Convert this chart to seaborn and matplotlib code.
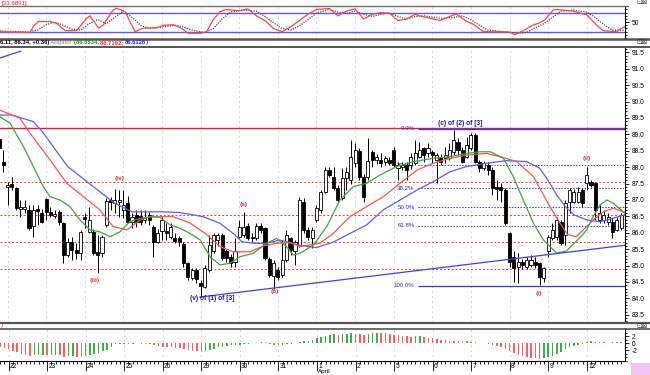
import matplotlib
matplotlib.use("Agg")
import matplotlib.pyplot as plt
import matplotlib.transforms as mtransforms
from matplotlib.lines import Line2D
from matplotlib.patches import Rectangle
from matplotlib.text import Annotation
from matplotlib.ticker import MultipleLocator, FixedLocator, FormatStrFormatter
import numpy as np
import pandas as pd
import seaborn as sns

# --- price bars (index 0 = first bar at the left edge) ---
opens = [88.85, 88.17, 87.40, 87.49, 87.36, 86.72, 86.73, 86.69, 86.20, 86.74,
         86.59, 87.02, 86.64, 86.50, 86.64, 86.29, 85.32, 85.73, 85.47, 85.37,
         86.47, 86.03, 86.03, 85.42, 85.37, 86.24, 87.00, 86.92, 86.95, 86.70,
         86.90, 86.34, 86.54, 86.51, 86.38, 86.54, 86.19, 85.73, 86.04, 86.05,
         85.88, 85.83, 85.83, 85.66, 85.07, 84.61, 84.87, 84.48, 84.36, 84.87,
         85.43, 85.78, 85.93, 85.43, 85.27, 85.12, 85.88, 85.93, 86.20, 85.88,
         85.83, 86.20, 86.14, 85.19, 84.68, 84.87, 84.71, 85.17, 85.83, 85.43,
         85.63, 86.95, 86.09, 85.83, 86.39, 86.70, 87.25, 87.90, 87.71, 87.36,
         87.05, 87.66, 87.60, 88.12, 88.50, 87.70, 87.70, 88.47, 88.22, 88.22,
         88.17, 88.22, 88.52, 87.97, 88.00, 88.07, 88.07, 88.12, 88.32, 88.57,
         88.42, 88.47, 88.22, 88.32, 88.27, 88.27, 88.47, 88.78, 88.52, 88.32,
         88.57, 88.98, 88.17, 87.97, 88.07, 87.92, 87.39, 87.39, 87.31, 85.98,
         85.27, 84.97, 85.12, 84.97, 85.02, 85.12, 85.07, 84.61, 85.43, 85.83,
         85.88, 86.34, 85.93, 86.95, 86.95, 86.95, 87.30, 87.51, 87.56, 87.51,
         86.39, 86.39, 86.34, 86.34, 86.09, 86.14]
highs = [88.88, 88.52, 87.55, 87.71, 87.41, 87.00, 87.00, 86.85, 86.85, 86.85,
         86.74, 87.05, 86.80, 86.70, 86.69, 86.34, 85.83, 85.88, 85.70, 86.08,
         86.59, 86.80, 86.13, 85.93, 85.93, 87.05, 87.10, 87.35, 87.30, 87.30,
         87.12, 86.59, 86.69, 86.69, 86.69, 86.64, 86.24, 86.13, 86.49, 86.29,
         86.30, 85.98, 85.90, 85.73, 85.12, 84.92, 84.92, 84.56, 85.02, 85.93,
         85.98, 86.00, 85.98, 85.50, 85.35, 85.83, 86.39, 86.64, 86.29, 86.00,
         86.29, 86.30, 86.19, 85.27, 85.17, 84.97, 85.78, 86.08, 85.88, 85.78,
         87.10, 87.05, 86.19, 86.19, 86.85, 87.30, 88.02, 88.00, 88.02, 87.46,
         87.97, 88.02, 88.83, 88.73, 88.60, 87.80, 88.88, 88.52, 88.40, 88.42,
         88.35, 88.32, 88.63, 88.17, 88.15, 88.17, 88.42, 88.83, 88.78, 88.63,
         88.73, 88.52, 88.42, 88.40, 88.63, 88.73, 89.13, 88.88, 88.63, 88.93,
         89.03, 89.03, 88.22, 88.20, 88.17, 88.02, 87.61, 87.51, 87.36, 86.03,
         85.43, 85.37, 85.20, 85.25, 85.32, 85.27, 85.12, 84.97, 85.93, 86.29,
         86.49, 86.39, 87.00, 87.36, 87.35, 87.40, 87.36, 88.02, 87.61, 87.56,
         86.85, 86.70, 86.60, 86.44, 86.49, 86.59]
lows = [88.52, 87.86, 86.85, 87.30, 86.70, 86.49, 86.59, 86.09, 85.88, 86.24,
        86.29, 86.39, 86.49, 86.45, 86.24, 85.07, 85.27, 85.17, 85.20, 85.17,
        86.14, 85.98, 85.32, 84.76, 85.27, 86.19, 86.70, 86.59, 86.49, 86.44,
        86.29, 86.14, 86.19, 86.24, 86.30, 86.24, 85.27, 85.68, 85.78, 85.78,
        85.80, 85.68, 85.60, 84.97, 84.56, 84.56, 84.46, 84.05, 84.31, 84.80,
        85.38, 85.60, 85.17, 85.10, 84.97, 84.97, 85.83, 85.88, 85.78, 85.73,
        85.78, 86.00, 85.17, 84.66, 84.30, 84.56, 84.66, 85.12, 85.32, 85.02,
        85.58, 85.98, 85.78, 85.53, 86.34, 86.60, 87.20, 87.70, 87.31, 86.90,
        87.00, 87.30, 87.50, 88.02, 87.60, 86.95, 87.60, 88.02, 88.10, 88.02,
        88.07, 88.07, 88.02, 87.61, 87.90, 87.61, 87.95, 88.07, 88.27, 88.17,
        88.32, 88.12, 87.51, 88.07, 88.12, 88.22, 88.37, 88.37, 88.12, 88.27,
        88.52, 88.12, 87.86, 87.90, 87.76, 87.15, 87.00, 86.95, 86.24, 84.97,
        84.51, 84.46, 84.90, 84.90, 84.97, 84.92, 84.41, 84.51, 85.27, 85.78,
        85.78, 85.63, 85.63, 86.59, 86.90, 86.90, 86.80, 87.30, 87.41, 86.39,
        86.29, 86.30, 86.25, 85.83, 86.04, 86.09]
closes = [88.60, 88.07, 87.45, 87.39, 86.75, 86.79, 86.80, 86.14, 86.69, 86.65,
          86.34, 86.64, 86.54, 86.56, 86.34, 85.32, 85.73, 85.47, 85.39, 86.03,
          86.43, 86.39, 85.37, 85.32, 85.88, 86.98, 86.94, 87.00, 87.00, 86.85,
          86.34, 86.49, 86.34, 86.34, 86.46, 86.39, 85.73, 85.98, 86.39, 85.98,
          86.19, 85.76, 85.73, 85.09, 84.66, 84.87, 84.58, 84.38, 84.92, 85.63,
          85.93, 85.93, 85.22, 85.22, 85.07, 85.43, 86.17, 86.19, 85.83, 85.83,
          86.20, 86.08, 85.22, 84.71, 85.07, 84.66, 85.17, 85.93, 85.48, 85.73,
          87.00, 86.09, 85.88, 86.08, 86.75, 87.25, 87.92, 87.76, 87.36, 87.00,
          87.66, 87.86, 88.30, 88.52, 87.70, 87.10, 88.20, 88.22, 88.32, 88.12,
          88.27, 88.12, 88.07, 88.07, 88.07, 87.92, 88.32, 88.42, 88.52, 88.37,
          88.57, 88.37, 88.37, 88.17, 88.37, 88.52, 88.83, 88.52, 88.17, 88.68,
          88.98, 88.17, 87.97, 88.12, 87.92, 87.36, 87.33, 87.31, 86.29, 85.12,
          84.92, 85.12, 85.02, 85.17, 85.17, 85.02, 84.66, 84.92, 85.88, 86.08,
          86.39, 85.68, 86.90, 87.30, 87.25, 87.25, 86.90, 87.76, 87.46, 86.70,
          86.59, 86.54, 86.49, 86.03, 86.39, 86.54]

day_labels = ["22", "23", "24", "25", "26", "29", "30", "31",
              "1", "2", "5", "6", "7", "8", "9", "12"]

# --- Alligator lines (bar index, price) ---
jaw_x = [0.2, 3, 8, 10, 16, 20, 24, 27, 31, 37.5, 42, 47.6, 51.5, 54.6, 56.6,
         59.3, 62.4, 65.5, 70, 74, 78, 81.8, 85.7, 89.6, 93.5, 97.4, 101.2,
         105.1, 109, 113.7, 118.3, 123, 126, 128, 130, 132, 134, 137, 140, 142,
         145.9]
jaw_y = [89.59, 89.59, 89.39, 89.1, 88.02, 87.61, 87.2, 86.9, 86.64, 86.64,
         86.62, 86.49, 86.29, 85.98, 85.73, 85.68, 85.68, 85.78, 85.62, 85.55,
         85.72, 85.98, 86.24, 86.7, 87.0, 87.3, 87.56, 87.86, 88.02, 88.12,
         88.2, 88.17, 87.97, 87.6, 87.15, 86.8, 86.55, 86.39, 86.34, 86.4,
         86.55]
teeth_x = [0.2, 4.9, 7.2, 11.9, 15.8, 19.7, 23.5, 26.6, 29.8, 32.9, 35.2, 40.6,
           44.5, 48.4, 51.5, 54.6, 58.5, 61.6, 64.7, 67.8, 70.2, 74.8, 77.9,
           81.8, 85.7, 89.6, 93.5, 97.4, 101.2, 105.1, 109, 113.7, 116.8, 120.7,
           124.6, 128.4, 130.8, 132.5, 134.5, 136.2, 138.5, 140.9, 143.2, 145.9]
teeth_y = [89.74, 89.49, 89.04, 88.22, 87.51, 87.1, 86.7, 86.19, 86.09, 86.39,
           86.49, 86.49, 86.3, 85.95, 85.58, 85.42, 85.42, 85.6, 85.68, 85.7,
           85.58, 85.68, 85.98, 86.49, 86.8, 87.1, 87.51, 87.91, 88.12, 88.27,
           88.37, 88.42, 88.32, 88.17, 87.71, 86.8, 86.29, 85.95, 85.88, 86.09,
           86.39, 86.64, 86.75, 86.62]
lips_x = [0.2, 2.6, 3.7, 5.7, 8, 10.3, 11.9, 14.2, 16.5, 18.9, 21.2, 23.5, 25.9,
          28.2, 30.5, 32.9, 35.2, 37.5, 39.9, 42.2, 44.5, 46.9, 49.2, 51.5,
          53.8, 56.2, 59.3, 62.4, 64.7, 67, 68.6, 70.2, 73.3, 76.4, 79.5, 82.6,
          85.7, 88.8, 92.7, 96.6, 101.2, 105.1, 109, 112.1, 114.5, 117.6, 119.9,
          122.2, 124.6, 126.9, 130, 132.3, 135.4, 137, 138.5, 140.1, 141.7,
          143.2, 145.9]
lips_y = [89.54, 89.34, 89.08, 88.63, 88.02, 87.41, 87.1, 87.0, 86.8, 86.39,
          86.09, 86.03, 85.88, 86.03, 86.34, 86.44, 86.49, 86.47, 86.24, 86.14,
          85.98, 85.78, 85.27, 85.02, 85.07, 85.27, 85.38, 85.68, 85.83, 85.58,
          85.32, 85.38, 85.63, 86.19, 87.0, 87.41, 87.51, 87.76, 88.02, 88.17,
          88.27, 88.32, 88.42, 88.47, 88.47, 88.27, 87.71, 87.0, 86.29, 85.78,
          85.38, 85.45, 85.85, 86.09, 86.49, 86.85, 87.0, 86.9, 86.6]

# --- stochastic (top pane) ---
stoch_k_x = [0.2, 2, 5, 7.2, 8, 9.2, 11.9, 13.4, 15.4, 18.1, 20.4, 21.2, 23.2,
             24.3, 26.6, 27.4, 29.4, 31.7, 33.6, 36.7, 38.3, 40.6, 42.5, 44.1,
             46.9, 48.4, 49.9, 51.5, 53, 56, 58, 60, 62, 64, 66, 68, 70, 72, 74,
             77, 79, 81, 83, 85, 87, 89, 91, 93, 95, 97, 98, 102.8, 105.9, 106.6,
             109, 110.5, 112.9, 119.1, 120.2, 122.2, 124.5, 125.7, 127.2, 129.2,
             130, 133.8, 137, 139.3, 140.8, 143.9, 145.9]
stoch_k_y = [20, 19, 18, 17, 36, 52, 52, 46.5, 23, 23, 62, 70, 31, 41, 88.5, 94,
             83, 20, 31, 32, 40, 42, 31, 15, 15, 20, 57, 83, 90, 86, 92, 70, 55,
             30, 20, 35, 55, 75, 90, 93, 70, 85, 92, 60, 75, 80, 78, 55, 60, 75,
             70, 55, 73, 76, 52, 44, 20, 19, 10, 23, 41, 46, 57, 88.5, 90, 85, 73,
             41, 23, 20, 36]
stoch_d_x = [0.2, 7, 9, 11, 13, 15, 17, 19, 21, 23, 25, 27, 29, 31, 33, 35, 38,
             41, 43, 45, 48, 50, 52, 54, 57, 60, 62, 64, 66, 68, 70, 72, 74, 77,
             79, 81, 83, 85, 87, 89, 91, 93, 95, 97, 99, 103, 106, 108, 110, 112,
             114, 118, 121, 123, 125, 127, 129, 131, 134, 137, 139, 141, 143,
             145.9]
stoch_d_y = [22, 19, 25, 42, 50, 40, 28, 25, 45, 58, 45, 65, 85, 65, 40, 30, 35,
             40, 35, 25, 17, 30, 60, 82, 88, 85, 68, 48, 30, 25, 38, 58, 78, 90,
             82, 78, 85, 75, 68, 75, 79, 68, 60, 68, 70, 62, 65, 70, 58, 40, 25,
             19, 15, 18, 32, 45, 65, 85, 88, 82, 65, 42, 25, 24]

# --- oscillator histogram (bottom pane), one value per bar ---
osc = [-1.0, -1.3, -1.8, -2.3, -2.7, -3.1, -3.4, -3.6, -3.5, -3.4,
       -3.3, -3.5, -3.4, -3.3, -3.5, -3.9, -3.8, -3.7, -3.9, -4.0,
       -3.8, -3.5, -3.2, -2.8, -2.4, -1.9, -1.2, -0.4, -0.2, -0.25,
       -0.3, -0.2, -0.1, -0.15, -0.2, -0.3, -0.5, -0.8, -1.0, -1.1,
       -1.2, -1.3, -1.5, -1.7, -2.0, -2.2, -2.3, -2.4, -2.2, -1.9,
       -1.6, -1.2, -1.0, -0.8, -0.7, -0.6, -0.5, -0.3, -0.2, -0.1,
       0.1, 0.3, 0.2, -0.4, -0.6, -0.7, -0.6, -0.4, -0.2, 0.1,
       0.3, 0.5, 0.7, 1.0, 1.3, 1.6, 1.9, 2.2, 2.5, 2.4,
       2.5, 2.6, 2.8, 2.7, 2.5, 2.4, 2.6, 2.8, 3.0, 2.9,
       2.8, 2.6, 2.4, 2.3, 2.1, 1.9, 1.8, 1.9, 2.0, 1.8,
       1.5, 1.3, 1.1, 0.9, 0.8, 0.7, 0.6, 0.5, 0.4, 0.5,
       0.4, 0.2, 0.1, -0.1, -0.3, -0.5, -0.8, -1.2, -1.6, -2.2,
       -2.8, -3.3, -3.8, -4.1, -4.3, -4.4, -4.5, -4.3, -4.0, -3.6,
       -3.0, -2.5, -1.8, -1.2, -0.8, -0.5, -0.2, 0.2, 0.5, 0.4,
       0.3, 0.2, 0.1, 0.2, 0.3, 0.3]

# --- annotation levels ---
fib_high, fib_low = 89.19, 84.38
fib_pcts = [0.0, 23.6, 38.2, 50.0, 61.8, 100.0]
red_levels = [87.56, 86.53, 85.72, 84.90]
trend_start = (46.8, 84.04)
trend_end = (145.92, 85.62)
wave_labels = [("(iv)", 28.2, 87.66), ("(iii)", 22.4, 84.56), ("(a)", 57.0, 86.87),
               ("(b)", 64.3, 84.20), ("(ii)", 137.0, 88.27), ("(i)", 125.9, 84.16)]
blue_labels = [("(c) of (2) of [3]", 107.4, 89.34), ("(v) of (1) of [3]", 49.7, 84.0)]
header_parts = [("6.11, 86.34, +0.36)", "black", "bold"),
                (" Alligator ", "#8a8a8a", "normal"),
                ("(86.6534, ", "#1e9a1e", "bold"),
                ("86.7192, ", "#ff2020", "bold"),
                ("86.6128", "#2020ff", "bold"),
                (")", "black", "normal")]

sns.set_theme(style="white")
plt.rcParams["font.family"] = ["Liberation Sans", "DejaVu Sans"]
plt.rcParams["axes.unicode_minus"] = False

W, H = 650, 375
fig = plt.figure(figsize=(W / 100, H / 100), dpi=100)
fig.patch.set_facecolor("white")


def box(x0, y0, x1, y1):
    return [x0 / W, 1 - y1 / H, (x1 - x0) / W, (y1 - y0) / H]


ax_st = fig.add_axes(box(0, 6, 625, 38))
ax = fig.add_axes(box(0, 47.5, 625, 322))
ax_os = fig.add_axes(box(0, 328, 625, 361))

XLIM = (0.23, 145.92)
day_pos = [2 + 9 * k for k in range(len(day_labels))]

for a in (ax_st, ax, ax_os):
    a.set_facecolor("white")
    a.set_xlim(*XLIM)
    for s in ("top", "left", "bottom"):
        a.spines[s].set_visible(False)
    a.spines["right"].set_color("black")
    a.spines["right"].set_linewidth(0.8)
    a.yaxis.tick_right()
    a.tick_params(axis="y", which="both", left=False, right=True, labelleft=False,
                  labelright=True, direction="out", colors="black", labelsize=4.8,
                  width=0.6, pad=2)
    a.tick_params(axis="y", which="major", length=3)
    a.tick_params(axis="y", which="minor", length=1.5)
    a.tick_params(axis="x", which="both", bottom=False, labelbottom=False)
    for p in day_pos:
        a.axvline(p, color="#8c8c8c", lw=0.6, ls=(0, (1, 5)), zorder=0)

# ---------- stochastic pane ----------
ax_st.set_ylim(0, 101)
ax_st.axhline(80, color="#5a5aff", lw=1.0, zorder=1)
ax_st.axhline(20, color="#5a5aff", lw=1.0, zorder=1)
sns.lineplot(x=stoch_d_x, y=stoch_d_y, ax=ax_st, color="#4a4a4a", lw=0.9,
             linestyle=(0, (1, 1)), estimator=None, sort=False, zorder=2)
sns.lineplot(x=stoch_k_x, y=stoch_k_y, ax=ax_st, color="#ff4444", lw=0.9,
             estimator=None, sort=False, zorder=3)
ax_st.yaxis.set_major_locator(FixedLocator([50]))
ax_st.yaxis.set_minor_locator(MultipleLocator(10))
ax_st.set_xlabel("")
ax_st.set_ylabel("")

# ---------- price pane ----------
ax.set_ylim(83.28, 91.649)
ax.yaxis.set_major_locator(MultipleLocator(0.5))
ax.yaxis.set_minor_locator(MultipleLocator(0.1))
ax.yaxis.set_major_formatter(FormatStrFormatter("%.1f"))

for lv in red_levels:
    ax.axhline(lv, color="#ff3030", lw=0.7, ls=(0, (2, 2)), zorder=1)
ax.axhline(89.2, color="#e0202a", lw=1.0, zorder=1)

fib_x0 = 97.7
for pct in fib_pcts:
    lv = fib_high - pct / 100 * (fib_high - fib_low)
    if pct in (0.0, 100.0):
        ax.hlines(lv - (0.03 if pct == 0.0 else 0), fib_x0, XLIM[1], color="#3535f0",
                  lw=0.9, zorder=1)
    else:
        ax.hlines(lv, fib_x0, XLIM[1], color="#3a3aff", lw=0.7, ls=(0, (1.5, 1.5)),
                  zorder=1)
    ax.text(fib_x0 - 0.8, lv, f"{pct:.1f}%", ha="right", va="center",
            color="#2a2ad8", fontsize=4.4, zorder=1)

ax.plot([trend_start[0], trend_end[0]], [trend_start[1], trend_end[1]],
        color="#4040f0", lw=0.9, zorder=6)
ax.plot([0.23, 5.1], [91.33, 91.54], color="#4040f0", lw=0.9, zorder=6)

bars = pd.DataFrame({"open": opens, "high": highs, "low": lows, "close": closes})
bars["i"] = np.arange(len(bars))
rising = bars["close"] >= bars["open"]
body_low = bars[["open", "close"]].min(axis=1)
body_h = (bars["close"] - bars["open"]).abs().clip(lower=0.03)
ax.vlines(bars["i"], bars["low"], bars["high"], color="black", lw=0.7, zorder=3)
ax.bar(bars["i"], body_h, bottom=body_low, width=0.72,
       color=np.where(rising, "white", "black"), edgecolor="black",
       linewidth=0.6, zorder=4)

for xs, ys, c in ((jaw_x, jaw_y, "#5b5bff"), (teeth_x, teeth_y, "#ff5050"),
                  (lips_x, lips_y, "#3aa83a")):
    sns.lineplot(x=xs, y=ys, ax=ax, color=c, lw=0.9, estimator=None, sort=False,
                 zorder=5)
ax.set_xlabel("")
ax.set_ylabel("")

for txt, xi, yv in wave_labels:
    ax.text(xi, yv, txt, color="#ff2020", fontsize=4.6, fontweight="bold",
            ha="center", va="center", zorder=7)
for txt, xi, yv in blue_labels:
    ax.text(xi, yv, txt, color="#1a1aa0", fontsize=4.8, fontweight="bold",
            ha="center", va="center", zorder=7)

# ---------- oscillator pane ----------
ax_os.set_ylim(-5.14, 4.29)
osc_arr = np.array(osc)
osc_col = np.where(np.diff(osc_arr, prepend=osc_arr[0] + 0.1) > 0, "#3cb043", "#ff5f5f")
ax_os.bar(np.arange(len(osc)), osc_arr, width=0.35, color=osc_col, lw=0, zorder=2)
ax_os.yaxis.set_major_locator(FixedLocator([2, 0, -2]))
ax_os.yaxis.set_minor_locator(MultipleLocator(1))
ax_os.spines["bottom"].set_visible(True)
ax_os.spines["bottom"].set_color("black")
ax_os.spines["bottom"].set_linewidth(0.8)
ax_os.set_xticks(day_pos)
ax_os.set_xticks(np.arange(0, 146), minor=True)
ax_os.tick_params(axis="x", which="both", bottom=True, labelbottom=False,
                  direction="out", color="black", width=0.6)
ax_os.tick_params(axis="x", which="major", length=7)
ax_os.tick_params(axis="x", which="minor", length=2)
trans = mtransforms.blended_transform_factory(ax_os.transData, ax_os.transAxes)
for p, lab in zip(day_pos, day_labels):
    ax_os.text(p + 0.3, -0.05, lab, transform=trans, fontsize=4.8, ha="left",
               va="top", color="black")

# ---------- figure furniture ----------
for y, c, lw, x1 in ((6, "#6e6e6e", 1.0, 628), (38.5, "#555555", 1.8, 650),
                     (46.5, "#555555", 1.4, 650), (322.5, "#555555", 1.6, 650),
                     (328.5, "#555555", 1.2, 650)):
    fig.add_artist(Line2D([0, x1 / W], [1 - y / H, 1 - y / H], color=c, lw=lw))

fig.text(2 / W, 1 - 3 / H, "[33.6891]", color="#e02020", fontsize=4.4, va="center")

# header pieces chained left to right, each anchored to the end of the last
txt0, col0, wt0 = header_parts[0]
anchor = fig.text(0, 1 - 42.5 / H, txt0, color=col0, fontsize=4.2,
                  fontweight=wt0, va="center")
for txt, col, wt in header_parts[1:]:
    anchor = fig.add_artist(Annotation(
        txt, xy=(1, 0.5), xycoords=anchor, va="center", ha="left",
        color=col, fontsize=4.2, fontweight=wt, annotation_clip=False))

fig.text(1 / W, 1 - 325.5 / H, ")", color="#e02020", fontsize=4.4, va="center")
for y in (2, 42.5, 325.5):
    fig.text(636 / W, 1 - y / H, "⊡⊠", color="#333333", fontsize=4.8, va="center",
             family="DejaVu Sans")
fig.text(318 / W, 1 - 371 / H, "April", color="black", fontsize=4.6, va="center")
fig.add_artist(Rectangle((631 / W, 0), 19 / W, 12 / H, transform=fig.transFigure,
                         color="#f6c4f2", lw=0))

fig.savefig("out.png", dpi=100, facecolor="white")
